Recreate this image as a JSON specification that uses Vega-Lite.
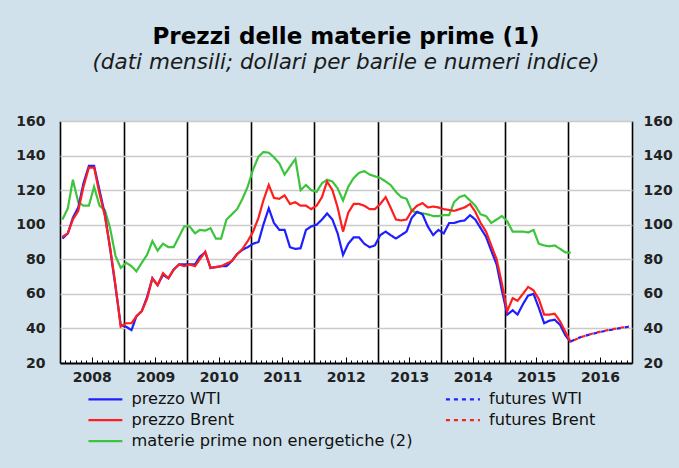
{
  "$schema": "https://vega.github.io/schema/vega-lite/v6.json",
  "width": 572,
  "height": 242,
  "autosize": {"type": "none"},
  "padding": {"left": 60, "top": 121, "right": 47, "bottom": 105},
  "background": "#d0e1eb",
  "title": {
    "text": "Prezzi delle materie prime (1)",
    "subtitle": "(dati mensili; dollari per barile e numeri indice)",
    "anchor": "middle",
    "frame": "group",
    "offset": 41,
    "font": "DejaVu Sans",
    "fontSize": 23,
    "fontWeight": "bold",
    "color": "#000000",
    "subtitleFont": "DejaVu Sans",
    "subtitleFontSize": 21.5,
    "subtitleFontStyle": "italic",
    "subtitleColor": "#1a1a1a",
    "subtitlePadding": 3
  },
  "datasets": {
    "storico": [
      {"date":"2008-01-15","serie":"materie prime non energetiche (2)","value":103},
      {"date":"2008-02-15","serie":"materie prime non energetiche (2)","value":109.5},
      {"date":"2008-03-15","serie":"materie prime non energetiche (2)","value":126},
      {"date":"2008-04-15","serie":"materie prime non energetiche (2)","value":113},
      {"date":"2008-05-15","serie":"materie prime non energetiche (2)","value":111},
      {"date":"2008-06-15","serie":"materie prime non energetiche (2)","value":111},
      {"date":"2008-07-15","serie":"materie prime non energetiche (2)","value":122},
      {"date":"2008-08-15","serie":"materie prime non energetiche (2)","value":111},
      {"date":"2008-09-15","serie":"materie prime non energetiche (2)","value":108.5},
      {"date":"2008-10-15","serie":"materie prime non energetiche (2)","value":98},
      {"date":"2008-11-15","serie":"materie prime non energetiche (2)","value":82},
      {"date":"2008-12-15","serie":"materie prime non energetiche (2)","value":75},
      {"date":"2009-01-15","serie":"materie prime non energetiche (2)","value":78},
      {"date":"2009-02-15","serie":"materie prime non energetiche (2)","value":76},
      {"date":"2009-03-15","serie":"materie prime non energetiche (2)","value":73},
      {"date":"2009-04-15","serie":"materie prime non energetiche (2)","value":78},
      {"date":"2009-05-15","serie":"materie prime non energetiche (2)","value":82.5},
      {"date":"2009-06-15","serie":"materie prime non energetiche (2)","value":90.5},
      {"date":"2009-07-15","serie":"materie prime non energetiche (2)","value":85},
      {"date":"2009-08-15","serie":"materie prime non energetiche (2)","value":89},
      {"date":"2009-09-15","serie":"materie prime non energetiche (2)","value":87},
      {"date":"2009-10-15","serie":"materie prime non energetiche (2)","value":87},
      {"date":"2009-11-15","serie":"materie prime non energetiche (2)","value":93},
      {"date":"2009-12-15","serie":"materie prime non energetiche (2)","value":99},
      {"date":"2010-01-15","serie":"materie prime non energetiche (2)","value":99},
      {"date":"2010-02-15","serie":"materie prime non energetiche (2)","value":95},
      {"date":"2010-03-15","serie":"materie prime non energetiche (2)","value":97},
      {"date":"2010-04-15","serie":"materie prime non energetiche (2)","value":96.6},
      {"date":"2010-05-15","serie":"materie prime non energetiche (2)","value":98},
      {"date":"2010-06-15","serie":"materie prime non energetiche (2)","value":92},
      {"date":"2010-07-15","serie":"materie prime non energetiche (2)","value":92},
      {"date":"2010-08-15","serie":"materie prime non energetiche (2)","value":103},
      {"date":"2010-09-15","serie":"materie prime non energetiche (2)","value":106},
      {"date":"2010-10-15","serie":"materie prime non energetiche (2)","value":109},
      {"date":"2010-11-15","serie":"materie prime non energetiche (2)","value":115},
      {"date":"2010-12-15","serie":"materie prime non energetiche (2)","value":122},
      {"date":"2011-01-15","serie":"materie prime non energetiche (2)","value":132},
      {"date":"2011-02-15","serie":"materie prime non energetiche (2)","value":139.4},
      {"date":"2011-03-15","serie":"materie prime non energetiche (2)","value":142},
      {"date":"2011-04-15","serie":"materie prime non energetiche (2)","value":141.7},
      {"date":"2011-05-15","serie":"materie prime non energetiche (2)","value":139},
      {"date":"2011-06-15","serie":"materie prime non energetiche (2)","value":135.5},
      {"date":"2011-07-15","serie":"materie prime non energetiche (2)","value":129},
      {"date":"2011-08-15","serie":"materie prime non energetiche (2)","value":133.6},
      {"date":"2011-09-15","serie":"materie prime non energetiche (2)","value":138},
      {"date":"2011-10-15","serie":"materie prime non energetiche (2)","value":120},
      {"date":"2011-11-15","serie":"materie prime non energetiche (2)","value":123},
      {"date":"2011-12-15","serie":"materie prime non energetiche (2)","value":120},
      {"date":"2012-01-15","serie":"materie prime non energetiche (2)","value":119},
      {"date":"2012-02-15","serie":"materie prime non energetiche (2)","value":124},
      {"date":"2012-03-15","serie":"materie prime non energetiche (2)","value":126},
      {"date":"2012-04-15","serie":"materie prime non energetiche (2)","value":125},
      {"date":"2012-05-15","serie":"materie prime non energetiche (2)","value":121},
      {"date":"2012-06-15","serie":"materie prime non energetiche (2)","value":114},
      {"date":"2012-07-15","serie":"materie prime non energetiche (2)","value":122},
      {"date":"2012-08-15","serie":"materie prime non energetiche (2)","value":127},
      {"date":"2012-09-15","serie":"materie prime non energetiche (2)","value":130},
      {"date":"2012-10-15","serie":"materie prime non energetiche (2)","value":131},
      {"date":"2012-11-15","serie":"materie prime non energetiche (2)","value":129},
      {"date":"2012-12-15","serie":"materie prime non energetiche (2)","value":128},
      {"date":"2013-01-15","serie":"materie prime non energetiche (2)","value":127},
      {"date":"2013-02-15","serie":"materie prime non energetiche (2)","value":125},
      {"date":"2013-03-15","serie":"materie prime non energetiche (2)","value":123},
      {"date":"2013-04-15","serie":"materie prime non energetiche (2)","value":119},
      {"date":"2013-05-15","serie":"materie prime non energetiche (2)","value":116},
      {"date":"2013-06-15","serie":"materie prime non energetiche (2)","value":115},
      {"date":"2013-07-15","serie":"materie prime non energetiche (2)","value":108},
      {"date":"2013-08-15","serie":"materie prime non energetiche (2)","value":107},
      {"date":"2013-09-15","serie":"materie prime non energetiche (2)","value":106.6},
      {"date":"2013-10-15","serie":"materie prime non energetiche (2)","value":106},
      {"date":"2013-11-15","serie":"materie prime non energetiche (2)","value":105},
      {"date":"2013-12-15","serie":"materie prime non energetiche (2)","value":105},
      {"date":"2014-01-15","serie":"materie prime non energetiche (2)","value":105.6},
      {"date":"2014-02-15","serie":"materie prime non energetiche (2)","value":105.6},
      {"date":"2014-03-15","serie":"materie prime non energetiche (2)","value":113},
      {"date":"2014-04-15","serie":"materie prime non energetiche (2)","value":116},
      {"date":"2014-05-15","serie":"materie prime non energetiche (2)","value":117},
      {"date":"2014-06-15","serie":"materie prime non energetiche (2)","value":114},
      {"date":"2014-07-15","serie":"materie prime non energetiche (2)","value":111},
      {"date":"2014-08-15","serie":"materie prime non energetiche (2)","value":106},
      {"date":"2014-09-15","serie":"materie prime non energetiche (2)","value":105},
      {"date":"2014-10-15","serie":"materie prime non energetiche (2)","value":101},
      {"date":"2014-11-15","serie":"materie prime non energetiche (2)","value":103},
      {"date":"2014-12-15","serie":"materie prime non energetiche (2)","value":105},
      {"date":"2015-01-15","serie":"materie prime non energetiche (2)","value":102},
      {"date":"2015-02-15","serie":"materie prime non energetiche (2)","value":96},
      {"date":"2015-03-15","serie":"materie prime non energetiche (2)","value":96},
      {"date":"2015-04-15","serie":"materie prime non energetiche (2)","value":96},
      {"date":"2015-05-15","serie":"materie prime non energetiche (2)","value":95.5},
      {"date":"2015-06-15","serie":"materie prime non energetiche (2)","value":97},
      {"date":"2015-07-15","serie":"materie prime non energetiche (2)","value":89},
      {"date":"2015-08-15","serie":"materie prime non energetiche (2)","value":88},
      {"date":"2015-09-15","serie":"materie prime non energetiche (2)","value":87.5},
      {"date":"2015-10-15","serie":"materie prime non energetiche (2)","value":88},
      {"date":"2015-11-15","serie":"materie prime non energetiche (2)","value":86},
      {"date":"2015-12-15","serie":"materie prime non energetiche (2)","value":84},
      {"date":"2016-01-15","serie":"materie prime non energetiche (2)","value":83.8},
      {"date":"2008-01-15","serie":"prezzo WTI","value":92},
      {"date":"2008-02-15","serie":"prezzo WTI","value":95},
      {"date":"2008-03-15","serie":"prezzo WTI","value":104},
      {"date":"2008-04-15","serie":"prezzo WTI","value":110},
      {"date":"2008-05-15","serie":"prezzo WTI","value":124},
      {"date":"2008-06-15","serie":"prezzo WTI","value":134},
      {"date":"2008-07-15","serie":"prezzo WTI","value":134},
      {"date":"2008-08-15","serie":"prezzo WTI","value":120},
      {"date":"2008-09-15","serie":"prezzo WTI","value":106},
      {"date":"2008-10-15","serie":"prezzo WTI","value":86},
      {"date":"2008-11-15","serie":"prezzo WTI","value":64},
      {"date":"2008-12-15","serie":"prezzo WTI","value":42},
      {"date":"2009-01-15","serie":"prezzo WTI","value":41},
      {"date":"2009-02-15","serie":"prezzo WTI","value":39},
      {"date":"2009-03-15","serie":"prezzo WTI","value":47},
      {"date":"2009-04-15","serie":"prezzo WTI","value":50},
      {"date":"2009-05-15","serie":"prezzo WTI","value":58},
      {"date":"2009-06-15","serie":"prezzo WTI","value":69},
      {"date":"2009-07-15","serie":"prezzo WTI","value":65},
      {"date":"2009-08-15","serie":"prezzo WTI","value":71},
      {"date":"2009-09-15","serie":"prezzo WTI","value":69},
      {"date":"2009-10-15","serie":"prezzo WTI","value":74},
      {"date":"2009-11-15","serie":"prezzo WTI","value":77},
      {"date":"2009-12-15","serie":"prezzo WTI","value":77},
      {"date":"2010-01-15","serie":"prezzo WTI","value":77},
      {"date":"2010-02-15","serie":"prezzo WTI","value":77},
      {"date":"2010-03-15","serie":"prezzo WTI","value":81.5},
      {"date":"2010-04-15","serie":"prezzo WTI","value":84},
      {"date":"2010-05-15","serie":"prezzo WTI","value":75},
      {"date":"2010-06-15","serie":"prezzo WTI","value":75.5},
      {"date":"2010-07-15","serie":"prezzo WTI","value":76},
      {"date":"2010-08-15","serie":"prezzo WTI","value":76},
      {"date":"2010-09-15","serie":"prezzo WTI","value":79},
      {"date":"2010-10-15","serie":"prezzo WTI","value":83},
      {"date":"2010-11-15","serie":"prezzo WTI","value":85.5},
      {"date":"2010-12-15","serie":"prezzo WTI","value":87},
      {"date":"2011-01-15","serie":"prezzo WTI","value":89},
      {"date":"2011-02-15","serie":"prezzo WTI","value":90},
      {"date":"2011-03-15","serie":"prezzo WTI","value":100},
      {"date":"2011-04-15","serie":"prezzo WTI","value":109.5},
      {"date":"2011-05-15","serie":"prezzo WTI","value":101},
      {"date":"2011-06-15","serie":"prezzo WTI","value":97},
      {"date":"2011-07-15","serie":"prezzo WTI","value":97},
      {"date":"2011-08-15","serie":"prezzo WTI","value":87},
      {"date":"2011-09-15","serie":"prezzo WTI","value":86},
      {"date":"2011-10-15","serie":"prezzo WTI","value":86.4},
      {"date":"2011-11-15","serie":"prezzo WTI","value":97},
      {"date":"2011-12-15","serie":"prezzo WTI","value":99},
      {"date":"2012-01-15","serie":"prezzo WTI","value":100},
      {"date":"2012-02-15","serie":"prezzo WTI","value":103},
      {"date":"2012-03-15","serie":"prezzo WTI","value":106.5},
      {"date":"2012-04-15","serie":"prezzo WTI","value":103},
      {"date":"2012-05-15","serie":"prezzo WTI","value":95},
      {"date":"2012-06-15","serie":"prezzo WTI","value":82.5},
      {"date":"2012-07-15","serie":"prezzo WTI","value":89},
      {"date":"2012-08-15","serie":"prezzo WTI","value":92.7},
      {"date":"2012-09-15","serie":"prezzo WTI","value":92.7},
      {"date":"2012-10-15","serie":"prezzo WTI","value":89},
      {"date":"2012-11-15","serie":"prezzo WTI","value":87},
      {"date":"2012-12-15","serie":"prezzo WTI","value":88},
      {"date":"2013-01-15","serie":"prezzo WTI","value":94},
      {"date":"2013-02-15","serie":"prezzo WTI","value":96},
      {"date":"2013-03-15","serie":"prezzo WTI","value":94},
      {"date":"2013-04-15","serie":"prezzo WTI","value":92},
      {"date":"2013-05-15","serie":"prezzo WTI","value":94},
      {"date":"2013-06-15","serie":"prezzo WTI","value":96},
      {"date":"2013-07-15","serie":"prezzo WTI","value":104},
      {"date":"2013-08-15","serie":"prezzo WTI","value":107.5},
      {"date":"2013-09-15","serie":"prezzo WTI","value":106},
      {"date":"2013-10-15","serie":"prezzo WTI","value":99},
      {"date":"2013-11-15","serie":"prezzo WTI","value":94},
      {"date":"2013-12-15","serie":"prezzo WTI","value":97},
      {"date":"2014-01-15","serie":"prezzo WTI","value":95},
      {"date":"2014-02-15","serie":"prezzo WTI","value":101},
      {"date":"2014-03-15","serie":"prezzo WTI","value":101},
      {"date":"2014-04-15","serie":"prezzo WTI","value":102},
      {"date":"2014-05-15","serie":"prezzo WTI","value":102.5},
      {"date":"2014-06-15","serie":"prezzo WTI","value":105.5},
      {"date":"2014-07-15","serie":"prezzo WTI","value":103},
      {"date":"2014-08-15","serie":"prezzo WTI","value":98},
      {"date":"2014-09-15","serie":"prezzo WTI","value":93},
      {"date":"2014-10-15","serie":"prezzo WTI","value":85},
      {"date":"2014-11-15","serie":"prezzo WTI","value":77},
      {"date":"2014-12-15","serie":"prezzo WTI","value":62},
      {"date":"2015-01-15","serie":"prezzo WTI","value":48},
      {"date":"2015-02-15","serie":"prezzo WTI","value":50.5},
      {"date":"2015-03-15","serie":"prezzo WTI","value":48},
      {"date":"2015-04-15","serie":"prezzo WTI","value":54},
      {"date":"2015-05-15","serie":"prezzo WTI","value":59},
      {"date":"2015-06-15","serie":"prezzo WTI","value":60},
      {"date":"2015-07-15","serie":"prezzo WTI","value":52},
      {"date":"2015-08-15","serie":"prezzo WTI","value":43},
      {"date":"2015-09-15","serie":"prezzo WTI","value":44.5},
      {"date":"2015-10-15","serie":"prezzo WTI","value":45},
      {"date":"2015-11-15","serie":"prezzo WTI","value":42},
      {"date":"2015-12-15","serie":"prezzo WTI","value":36},
      {"date":"2016-01-15","serie":"prezzo WTI","value":32},
      {"date":"2008-01-15","serie":"prezzo Brent","value":93},
      {"date":"2008-02-15","serie":"prezzo Brent","value":95},
      {"date":"2008-03-15","serie":"prezzo Brent","value":103},
      {"date":"2008-04-15","serie":"prezzo Brent","value":108},
      {"date":"2008-05-15","serie":"prezzo Brent","value":122},
      {"date":"2008-06-15","serie":"prezzo Brent","value":133},
      {"date":"2008-07-15","serie":"prezzo Brent","value":133},
      {"date":"2008-08-15","serie":"prezzo Brent","value":118},
      {"date":"2008-09-15","serie":"prezzo Brent","value":105},
      {"date":"2008-10-15","serie":"prezzo Brent","value":87},
      {"date":"2008-11-15","serie":"prezzo Brent","value":65},
      {"date":"2008-12-15","serie":"prezzo Brent","value":41},
      {"date":"2009-01-15","serie":"prezzo Brent","value":43},
      {"date":"2009-02-15","serie":"prezzo Brent","value":43},
      {"date":"2009-03-15","serie":"prezzo Brent","value":47},
      {"date":"2009-04-15","serie":"prezzo Brent","value":50},
      {"date":"2009-05-15","serie":"prezzo Brent","value":57},
      {"date":"2009-06-15","serie":"prezzo Brent","value":69},
      {"date":"2009-07-15","serie":"prezzo Brent","value":65},
      {"date":"2009-08-15","serie":"prezzo Brent","value":72},
      {"date":"2009-09-15","serie":"prezzo Brent","value":69},
      {"date":"2009-10-15","serie":"prezzo Brent","value":74},
      {"date":"2009-11-15","serie":"prezzo Brent","value":77},
      {"date":"2009-12-15","serie":"prezzo Brent","value":76},
      {"date":"2010-01-15","serie":"prezzo Brent","value":77},
      {"date":"2010-02-15","serie":"prezzo Brent","value":76},
      {"date":"2010-03-15","serie":"prezzo Brent","value":80},
      {"date":"2010-04-15","serie":"prezzo Brent","value":84.4},
      {"date":"2010-05-15","serie":"prezzo Brent","value":75},
      {"date":"2010-06-15","serie":"prezzo Brent","value":75.5},
      {"date":"2010-07-15","serie":"prezzo Brent","value":76},
      {"date":"2010-08-15","serie":"prezzo Brent","value":77.5},
      {"date":"2010-09-15","serie":"prezzo Brent","value":79},
      {"date":"2010-10-15","serie":"prezzo Brent","value":83},
      {"date":"2010-11-15","serie":"prezzo Brent","value":86},
      {"date":"2010-12-15","serie":"prezzo Brent","value":90.5},
      {"date":"2011-01-15","serie":"prezzo Brent","value":96},
      {"date":"2011-02-15","serie":"prezzo Brent","value":104},
      {"date":"2011-03-15","serie":"prezzo Brent","value":114},
      {"date":"2011-04-15","serie":"prezzo Brent","value":123},
      {"date":"2011-05-15","serie":"prezzo Brent","value":115.5},
      {"date":"2011-06-15","serie":"prezzo Brent","value":115},
      {"date":"2011-07-15","serie":"prezzo Brent","value":117},
      {"date":"2011-08-15","serie":"prezzo Brent","value":112},
      {"date":"2011-09-15","serie":"prezzo Brent","value":113},
      {"date":"2011-10-15","serie":"prezzo Brent","value":111},
      {"date":"2011-11-15","serie":"prezzo Brent","value":111},
      {"date":"2011-12-15","serie":"prezzo Brent","value":109},
      {"date":"2012-01-15","serie":"prezzo Brent","value":111},
      {"date":"2012-02-15","serie":"prezzo Brent","value":116},
      {"date":"2012-03-15","serie":"prezzo Brent","value":125},
      {"date":"2012-04-15","serie":"prezzo Brent","value":120},
      {"date":"2012-05-15","serie":"prezzo Brent","value":110},
      {"date":"2012-06-15","serie":"prezzo Brent","value":96},
      {"date":"2012-07-15","serie":"prezzo Brent","value":107},
      {"date":"2012-08-15","serie":"prezzo Brent","value":112},
      {"date":"2012-09-15","serie":"prezzo Brent","value":112},
      {"date":"2012-10-15","serie":"prezzo Brent","value":111},
      {"date":"2012-11-15","serie":"prezzo Brent","value":109},
      {"date":"2012-12-15","serie":"prezzo Brent","value":109},
      {"date":"2013-01-15","serie":"prezzo Brent","value":112},
      {"date":"2013-02-15","serie":"prezzo Brent","value":116},
      {"date":"2013-03-15","serie":"prezzo Brent","value":110},
      {"date":"2013-04-15","serie":"prezzo Brent","value":103},
      {"date":"2013-05-15","serie":"prezzo Brent","value":102.5},
      {"date":"2013-06-15","serie":"prezzo Brent","value":103},
      {"date":"2013-07-15","serie":"prezzo Brent","value":108},
      {"date":"2013-08-15","serie":"prezzo Brent","value":111},
      {"date":"2013-09-15","serie":"prezzo Brent","value":112.5},
      {"date":"2013-10-15","serie":"prezzo Brent","value":110},
      {"date":"2013-11-15","serie":"prezzo Brent","value":110.5},
      {"date":"2013-12-15","serie":"prezzo Brent","value":110},
      {"date":"2014-01-15","serie":"prezzo Brent","value":109},
      {"date":"2014-02-15","serie":"prezzo Brent","value":108.5},
      {"date":"2014-03-15","serie":"prezzo Brent","value":108},
      {"date":"2014-04-15","serie":"prezzo Brent","value":109},
      {"date":"2014-05-15","serie":"prezzo Brent","value":110},
      {"date":"2014-06-15","serie":"prezzo Brent","value":112},
      {"date":"2014-07-15","serie":"prezzo Brent","value":107.5},
      {"date":"2014-08-15","serie":"prezzo Brent","value":101},
      {"date":"2014-09-15","serie":"prezzo Brent","value":96},
      {"date":"2014-10-15","serie":"prezzo Brent","value":88},
      {"date":"2014-11-15","serie":"prezzo Brent","value":80},
      {"date":"2014-12-15","serie":"prezzo Brent","value":66},
      {"date":"2015-01-15","serie":"prezzo Brent","value":50},
      {"date":"2015-02-15","serie":"prezzo Brent","value":57.5},
      {"date":"2015-03-15","serie":"prezzo Brent","value":56},
      {"date":"2015-04-15","serie":"prezzo Brent","value":60},
      {"date":"2015-05-15","serie":"prezzo Brent","value":64},
      {"date":"2015-06-15","serie":"prezzo Brent","value":62},
      {"date":"2015-07-15","serie":"prezzo Brent","value":57},
      {"date":"2015-08-15","serie":"prezzo Brent","value":48},
      {"date":"2015-09-15","serie":"prezzo Brent","value":48},
      {"date":"2015-10-15","serie":"prezzo Brent","value":48.5},
      {"date":"2015-11-15","serie":"prezzo Brent","value":44},
      {"date":"2015-12-15","serie":"prezzo Brent","value":38},
      {"date":"2016-01-15","serie":"prezzo Brent","value":32}
    ],
    "futWTI": [
      {"date":"2016-01-15","serie":"futures WTI","value":32.5},
      {"date":"2016-02-15","serie":"futures WTI","value":34},
      {"date":"2016-03-15","serie":"futures WTI","value":35},
      {"date":"2016-04-15","serie":"futures WTI","value":36},
      {"date":"2016-05-15","serie":"futures WTI","value":36.8},
      {"date":"2016-06-15","serie":"futures WTI","value":37.5},
      {"date":"2016-07-15","serie":"futures WTI","value":38.2},
      {"date":"2016-08-15","serie":"futures WTI","value":38.8},
      {"date":"2016-09-15","serie":"futures WTI","value":39.4},
      {"date":"2016-10-15","serie":"futures WTI","value":40},
      {"date":"2016-11-15","serie":"futures WTI","value":40.5},
      {"date":"2016-12-15","serie":"futures WTI","value":41}
    ],
    "futBrent": [
      {"date":"2016-01-15","serie":"futures Brent","value":32},
      {"date":"2016-02-15","serie":"futures Brent","value":33.8},
      {"date":"2016-03-15","serie":"futures Brent","value":35},
      {"date":"2016-04-15","serie":"futures Brent","value":36},
      {"date":"2016-05-15","serie":"futures Brent","value":36.9},
      {"date":"2016-06-15","serie":"futures Brent","value":37.7},
      {"date":"2016-07-15","serie":"futures Brent","value":38.4},
      {"date":"2016-08-15","serie":"futures Brent","value":39},
      {"date":"2016-09-15","serie":"futures Brent","value":39.6},
      {"date":"2016-10-15","serie":"futures Brent","value":40.2},
      {"date":"2016-11-15","serie":"futures Brent","value":40.7},
      {"date":"2016-12-15","serie":"futures Brent","value":41.2}
    ]
  },
  "layer": [
    {
      "data": {"name": "storico"},
      "mark": {"type": "line", "strokeWidth": 2.2},
      "encoding": {
        "x": {
          "field": "date", "type": "temporal",
          "scale": {"type": "utc", "nice": false, "domain": [{"year": 2008, "month": 1, "date": 1, "utc": true}, {"year": 2017, "month": 1, "date": 1, "utc": true}]},
          "axis": {"orient": "bottom", "title": null, "labels": false, "grid": false, "domain": true, "domainColor": "#000000", "domainWidth": 2, "ticks": true, "tickCount": {"interval": "month", "step": 1}, "tickSize": -3, "tickWidth": 1, "tickColor": "#000000"}
        },
        "y": {
          "field": "value", "type": "quantitative",
          "scale": {"domain": [20, 160], "nice": false, "zero": false},
          "axis": {"orient": "left", "title": null, "values": [20, 40, 60, 80, 100, 120, 140, 160], "grid": true, "gridColor": "#cacaca", "gridWidth": 1.5, "domain": false, "ticks": false, "labelFont": "DejaVu Sans", "labelFontSize": 14, "labelFontWeight": "bold", "labelColor": "#222222", "labelPadding": 15}
        },
        "color": {
          "field": "serie", "type": "nominal",
          "scale": {"domain": ["prezzo WTI", "prezzo Brent", "materie prime non energetiche (2)", "futures WTI", "futures Brent"], "range": ["#1e1eff", "#ff1e1e", "#3cc43c", "#1e1eff", "#ff1e1e"]}
        },
        "strokeDash": {
          "field": "serie", "type": "nominal",
          "scale": {"domain": ["prezzo WTI", "prezzo Brent", "materie prime non energetiche (2)", "futures WTI", "futures Brent"], "range": [[1, 0], [1, 0], [1, 0], [4, 4], [4, 4]]}
        }
      }
    },
    {
      "data": {"name": "futWTI"},
      "mark": {"type": "line", "strokeWidth": 2.2},
      "encoding": {
        "x": {
          "field": "date", "type": "temporal",
          "axis": {"orient": "bottom", "title": null, "values": [{"year": 2008, "month": 7, "date": 1, "utc": true}, {"year": 2009, "month": 7, "date": 1, "utc": true}, {"year": 2010, "month": 7, "date": 1, "utc": true}, {"year": 2011, "month": 7, "date": 1, "utc": true}, {"year": 2012, "month": 7, "date": 1, "utc": true}, {"year": 2013, "month": 7, "date": 1, "utc": true}, {"year": 2014, "month": 7, "date": 1, "utc": true}, {"year": 2015, "month": 7, "date": 1, "utc": true}, {"year": 2016, "month": 7, "date": 1, "utc": true}], "labelExpr": "utcFormat(datum.value, '%Y')", "grid": false, "domain": false, "ticks": true, "tickSize": -6, "tickWidth": 1, "tickColor": "#000000", "labelFont": "DejaVu Sans", "labelFontSize": 14, "labelFontWeight": "bold", "labelColor": "#222222", "labelPadding": 13, "labelFlush": false}
        },
        "y": {
          "field": "value", "type": "quantitative",
          "axis": {"orient": "right", "title": null, "values": [20, 40, 60, 80, 100, 120, 140, 160], "grid": false, "domain": false, "ticks": false, "labelFont": "DejaVu Sans", "labelFontSize": 14, "labelFontWeight": "bold", "labelColor": "#222222", "labelPadding": 11}
        },
        "color": {"field": "serie", "type": "nominal"},
        "strokeDash": {"field": "serie", "type": "nominal"}
      }
    },
    {
      "data": {"name": "futBrent"},
      "mark": {"type": "line", "strokeWidth": 2.2, "strokeDashOffset": 4},
      "encoding": {
        "x": {
          "field": "date", "type": "temporal",
          "axis": {"orient": "bottom", "title": null, "labels": false, "ticks": false, "domain": false, "grid": true, "gridColor": "#000000", "gridWidth": 1.6, "tickCount": {"interval": "year", "step": 1}}
        },
        "y": {"field": "value", "type": "quantitative", "axis": null},
        "color": {"field": "serie", "type": "nominal"},
        "strokeDash": {"field": "serie", "type": "nominal"}
      }
    }
  ],
  "resolve": {"axis": {"x": "independent", "y": "independent"}},
  "config": {
    "view": {"fill": "#ffffff", "stroke": null},
    "legend": {
      "orient": "none", "legendX": 37.3, "legendY": 270, "direction": "vertical",
      "columns": 2, "columnPadding": 27.5, "rowPadding": 4, "padding": 0,
      "title": null, "labelFont": "DejaVu Sans", "labelFontSize": 16.2, "labelColor": "#111111",
      "labelOffset": 18, "labelLimit": 400, "symbolType": "M-3,0H3", "symbolSize": 128, "symbolStrokeWidth": 2.2
    }
  }
}
